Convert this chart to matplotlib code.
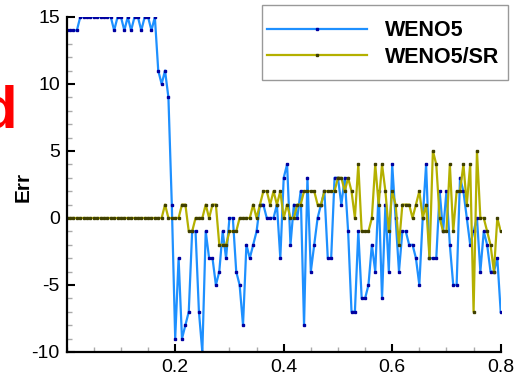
import numpy as np
import matplotlib
matplotlib.use("Agg")
import matplotlib.pyplot as plt
from matplotlib.ticker import MultipleLocator
from matplotlib.patches import Rectangle

plt.rcParams['font.family'] = ['Liberation Sans', 'DejaVu Sans']
plt.rcParams['axes.unicode_minus'] = False

# grid points, 0 .. 0.8
x = np.linspace(0.0, 0.8, 129)

weno5 = [14, 14, 14, 14, 15, 15, 15, 15, 15, 15, 15, 15, 15, 15,
         14, 15, 15, 14, 15, 14, 15, 15, 14, 15, 15, 14, 15,
         11, 10, 11, 9, 1,
         -9, -3, -9, -8, -7, -1, -1, -7, -10, -1, -3, -3, -5, -4, -1, -3, 0, 0,
         -4, -5, -8, -2, -3, -2, -1, 1, 1, 0, 0, 0, 1, -3, 3, 4, -2, 1, 0,
         2, -8, 3, -4, -2, 0, 1, 2, -3, -3, 3, 3, 1, 3, -1, -7, -7, -1, -6, -6,
         -5, -2, -4, 2, -6, 1, -4, 4, 0, -4, -1, -1, -2, -2, -3, -5, 0, 4, -3, -3,
         -3, 2, -1, 2, -2, -5, -5, 3, 2, 0, -2, -1, 0, -4, -1, -2, -4, -4, -3, -7]

weno5_sr = [0, 0, 0, 0, 0, 0, 0, 0, 0, 0, 0, 0, 0, 0, 0, 0, 0, 0, 0, 0,
            0, 0, 0, 0, 0, 0, 0, 0, 0, 1, 0, 0, 0, 0, 1, 1, -1, -1, 0, 0,
            0, 1, 0, 1, 1, -2, -2, -2, -1, -1, -1, 0, 0, 0, 0, 1, 0, 1,
            2, 2, 1, 2, 1, 2, 0, 1, 0, 0, 1,
            1, 2, 2, 2, 2, 1, 1, 2, 2, 2, 2, 3, 3, 2, 3, 2, 0, 4, -1, -1, -1,
            0, 4, 1, 4, 2, -1, 2, 1, -2, 1, 1, 1, 0, 1, 2, 0, 1, -3, 5, 4,
            0, -1, -1, 4, -1, 2, 2, 4, 1, 4, -7, 5, 0, 0, -1, -2, -4, 0, -1]

labels = ["WENO5", "WENO5/SR"]

fig = plt.figure(figsize=(5.16, 3.78), dpi=100)
ax = fig.add_axes([66.7 / 516, 1 - 352 / 378, (500.7 - 66.7) / 516, (352 - 17) / 378])

ax.plot(x, weno5, color='#1E90FF', lw=1.6, marker='s', ms=2,
        mfc='#0000A0', mec='#0000A0', label=labels[0])
ax.plot(x, weno5_sr, color='#B4B000', lw=1.6, marker='s', ms=2,
        mfc='#404000', mec='#404000', label=labels[1])

ax.set_xlim(0, 0.8)
ax.set_ylim(-10, 15)
ax.xaxis.set_minor_locator(MultipleLocator(0.05))
ax.yaxis.set_major_locator(MultipleLocator(5))
ax.yaxis.set_minor_locator(MultipleLocator(1))
ax.set_xticks([0.2, 0.4, 0.6, 0.8])
ax.set_xticklabels(["0.2", "0.4", "0.6", "0.8"])

ax.tick_params(which='major', direction='in', length=6, width=1.5,
               labelsize=14, pad=5, color='black')
ax.tick_params(which='minor', direction='in', length=3.5, width=1,
               color='#aaaaaa')
ax.tick_params(axis='x', which='major', pad=5)

for s in ['top', 'right']:
    ax.spines[s].set_visible(False)
for s in ['left', 'bottom']:
    ax.spines[s].set_linewidth(1.6)

fig.text(23 / 516, 1 - 187 / 378, "Err", rotation=90, ha='center', va='center',
         fontsize=15, fontweight='bold')
fig.text(17 / 516, 1 - 128 / 378, "d", ha='right', va='baseline',
         color='red', fontsize=43, fontweight='bold')

# legend box drawn by hand, entries placed inside it
box = Rectangle((262 / 516, 1 - 80 / 378), (508 - 262) / 516, 75 / 378,
                transform=fig.transFigure, facecolor='white', edgecolor='#999999',
                lw=1.0, clip_on=False, zorder=4)
ax.add_patch(box)

leg = ax.legend(loc='upper left', bbox_to_anchor=(267 / 516, 1 - 20.5 / 378),
                bbox_transform=fig.transFigure, prop={'weight': 'bold', 'size': 15.5},
                handlelength=4.65, handletextpad=0.84, labelspacing=0.25,
                borderpad=0, borderaxespad=0, numpoints=1, frameon=False)
leg.set_zorder(5)

fig.savefig("out.png", dpi=100)
